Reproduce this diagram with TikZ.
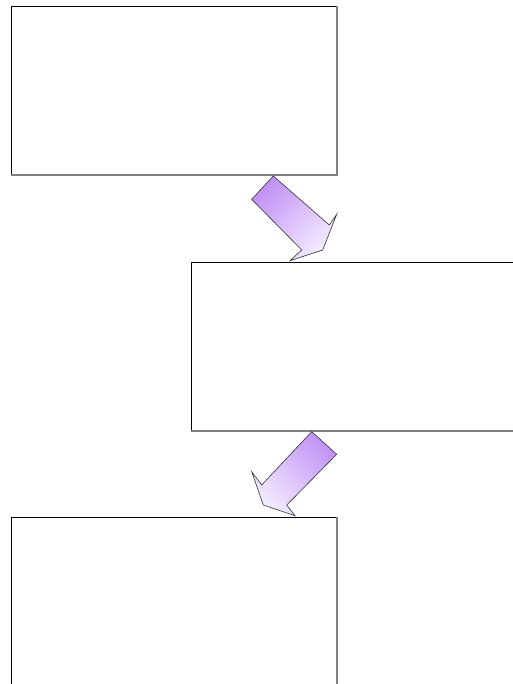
\documentclass[tikz,border=0pt]{standalone}
\usepackage{tikz}

\definecolor{arrowdark}{HTML}{C293F5}
\definecolor{arrowlight}{HTML}{F4ECFF}

\tikzset{
    panel/.style={draw, rectangle, line width=0.8pt, minimum width=326pt, minimum height=168pt, inner sep=0pt, anchor=north west},
    edge shadow/.style={draw=gray, line width=1.8pt},
    blockarrow/.style={draw=black!80, line width=0.6pt, top color=arrowdark, bottom color=arrowlight}
}

\begin{document}
\begin{tikzpicture}[x=1pt, y=-1pt]
    \useasboundingbox (0,0) rectangle (513,684);
    \clip (0,0) rectangle (513,684);

    \draw
    (10.5,6)node[panel](p0){}
    (191,262)node[panel, minimum width=340pt](p1){}
    (10.5,517)node[panel, minimum height=180pt](p2){}
    ;

    % gray shade on the right and bottom sides
    \draw[edge shadow] (p0.north east) -- (p0.south east) -- (p0.south west);
    \draw[edge shadow] (p1.south west) -- (p1.south east);
    \draw[edge shadow] (p2.north east) -- (p2.south east);

    % block arrows between the panels
    \shadedraw[blockarrow, shading angle=45]
    (273.3,176) -- (329.3,225) -- (336.7,214.3) -- (322.7,250) -- (290,260.7) -- (301.7,250) -- (251.7,199.3) -- cycle;
    \shadedraw[blockarrow, shading angle=-45]
    (311.7,431.7) -- (336.7,454.3) -- (286.7,505) -- (295,515.7) -- (263.3,505) -- (251.7,471.7) -- (261.7,485) -- cycle;
\end{tikzpicture}
\end{document}
